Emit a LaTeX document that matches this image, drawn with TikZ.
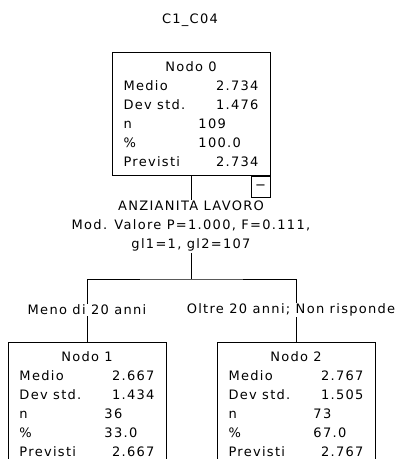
\documentclass[tikz,border=0pt]{standalone}
\usepackage{fontspec}
\setmainfont{DejaVu Sans}[LetterSpace=10]
\usetikzlibrary{positioning}

\begin{document}
\begin{tikzpicture}[x=1pt, y=-1pt,
      statbox/.style={draw, line width=1pt, anchor=north, minimum width=158pt,
        minimum height=123pt, inner sep=0pt, align=left,
        font=\fontsize{13}{19}\selectfont},
      lbl/.style={inner sep=1pt, align=center, font=\fontsize{13}{19}\selectfont},
      branch/.style={lbl, fill=white},
      togbox/.style={draw, line width=1pt, anchor=north east, minimum width=19pt,
        minimum height=21pt, inner sep=0pt, font=\fontsize{13}{13}\selectfont},
      link/.style={line width=1pt}
    ]
      \useasboundingbox (0,0) rectangle (407,459);
      \clip (0,0) rectangle (407,459);
      \node[lbl] (title) at (190,20) {C1\_C04};
      % root
      \node[statbox] (n0) at (191,52) {%
        \makebox[135pt]{Nodo 0}\\
        \makebox[75pt][l]{Medio}\makebox[60pt][r]{2.734}\\
        \makebox[75pt][l]{Dev std.}\makebox[60pt][r]{1.476}\\
        \makebox[75pt][l]{n}\makebox[60pt][l]{109}\\
        \makebox[75pt][l]{\%}\makebox[60pt][l]{100.0}\\
        \makebox[75pt][l]{Previsti}\makebox[60pt][r]{2.734}};
      \node[togbox] (n0tog) at (n0.south east) {−};
      \node[lbl, below=24pt of n0] (split)
        {ANZIANITA LAVORO\\Mod. Valore P=1.000, F=0.111,\\gl1=1, gl2=107};
      \coordinate (fork) at (191,279);
      % children
      \node[statbox] (n1) at (87,342) {%
        \makebox[135pt]{Nodo 1}\\
        \makebox[85pt][l]{Medio}\makebox[50pt][r]{2.667}\\
        \makebox[85pt][l]{Dev std.}\makebox[50pt][r]{1.434}\\
        \makebox[85pt][l]{n}\makebox[50pt][l]{36}\\
        \makebox[85pt][l]{\%}\makebox[50pt][l]{33.0}\\
        \makebox[85pt][l]{Previsti}\makebox[50pt][r]{2.667}};
      \node[statbox] (n2) at (296,342) {%
        \makebox[135pt]{Nodo 2}\\
        \makebox[85pt][l]{Medio}\makebox[50pt][r]{2.767}\\
        \makebox[85pt][l]{Dev std.}\makebox[50pt][r]{1.505}\\
        \makebox[85pt][l]{n}\makebox[50pt][l]{73}\\
        \makebox[85pt][l]{\%}\makebox[50pt][l]{67.0}\\
        \makebox[85pt][l]{Previsti}\makebox[50pt][r]{2.767}};
      \draw[link] (n0.south) -- (split.north);
      \draw[link] (split.south) -- (fork);
      \draw[link] (n1.north) |- (fork) -| (n2.north);
      \node[branch] (b1) at (87,310) {Meno di 20 anni};
      \node[branch] (b2) at (291,310) {Oltre 20 anni; Non risponde};
    \end{tikzpicture}
\end{document}
